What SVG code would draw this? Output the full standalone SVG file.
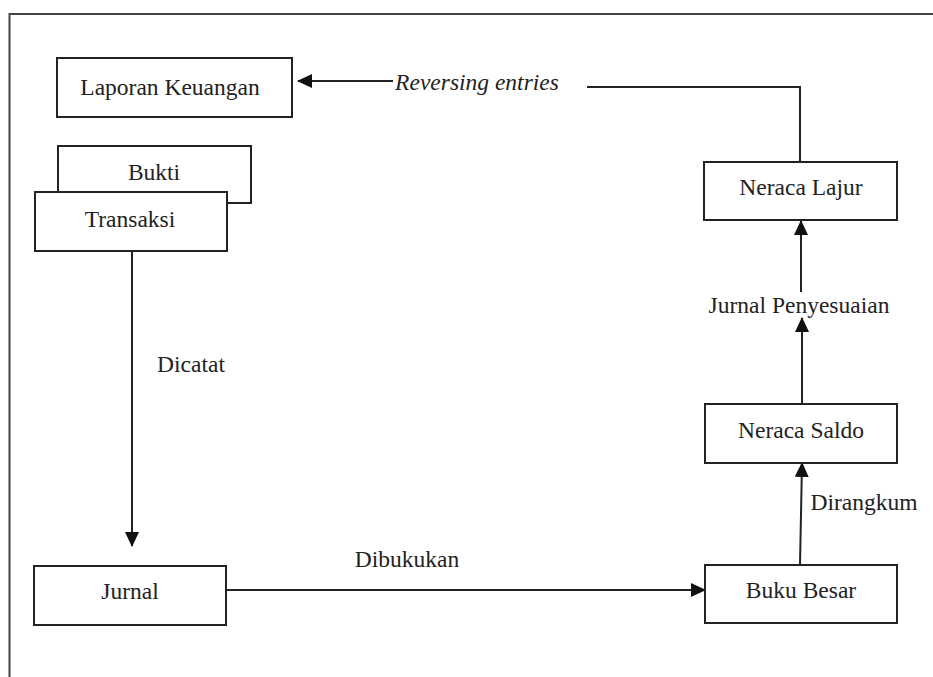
<svg xmlns="http://www.w3.org/2000/svg" width="933" height="677" viewBox="0 0 933 677">
  <style>
    .box { fill: #fff; stroke: #222; stroke-width: 2; }
    .lbl { font-family: "Liberation Serif", "Times New Roman", serif; font-size: 23.5px; fill: #222; text-anchor: middle; }
    .it { font-style: italic; }
    .edge { fill: none; stroke: #222; stroke-width: 2; }
    .frame { fill: none; stroke: #444; stroke-width: 2; }
  </style>
  <defs>
    <marker id="arrow" viewBox="0 0 15 14" refX="14" refY="7" markerWidth="15" markerHeight="14" markerUnits="userSpaceOnUse" orient="auto">
      <path d="M0,0 L15,7 L0,14 Z" fill="#111"/>
    </marker>
  </defs>

  <rect width="933" height="677" fill="#fff"/>

  <!-- page frame -->
  <path class="frame" d="M9.5,677 V14 H933"/>

  <!-- connectors -->
  <g id="connectors">
    <path class="edge" d="M393,81 H298" marker-end="url(#arrow)"/>
    <path class="edge" d="M587,87 H800 V162"/>
    <path class="edge" d="M132,251 V546" marker-end="url(#arrow)"/>
    <path class="edge" d="M226,590 H705" marker-end="url(#arrow)"/>
    <path class="edge" d="M800,565 L802,463" marker-end="url(#arrow)"/>
    <path class="edge" d="M802,404 L802,318" marker-end="url(#arrow)"/>
    <path class="edge" d="M801,292 L801,221" marker-end="url(#arrow)"/>
  </g>

  <!-- edge labels -->
  <g id="edge-labels">
    <text class="lbl it" x="477" y="90">Reversing entries</text>
    <text class="lbl" x="191" y="372">Dicatat</text>
    <text class="lbl" x="407" y="567">Dibukukan</text>
    <text class="lbl" x="864" y="510">Dirangkum</text>
  </g>

  <g id="laporan-keuangan">
    <rect class="box" x="57" y="58" width="235" height="59"/>
    <text class="lbl" x="170" y="95">Laporan Keuangan</text>
  </g>

  <g id="bukti-transaksi">
    <rect class="box" x="58" y="146" width="193" height="57"/>
    <text class="lbl" x="154" y="180">Bukti</text>
    <rect class="box" x="35" y="192" width="192" height="59"/>
    <text class="lbl" x="130" y="227">Transaksi</text>
  </g>

  <g id="jurnal">
    <rect class="box" x="34" y="566" width="192" height="59"/>
    <text class="lbl" x="130" y="599">Jurnal</text>
  </g>

  <g id="buku-besar">
    <rect class="box" x="705" y="565" width="192" height="58"/>
    <text class="lbl" x="801" y="598">Buku Besar</text>
  </g>

  <g id="neraca-saldo">
    <rect class="box" x="705" y="404" width="192" height="59"/>
    <text class="lbl" x="801" y="438">Neraca Saldo</text>
  </g>

  <g id="jurnal-penyesuaian">
    <text class="lbl" x="799" y="313">Jurnal Penyesuaian</text>
  </g>

  <g id="neraca-lajur">
    <rect class="box" x="704" y="162" width="193" height="58"/>
    <text class="lbl" x="801" y="195">Neraca Lajur</text>
  </g>
</svg>
